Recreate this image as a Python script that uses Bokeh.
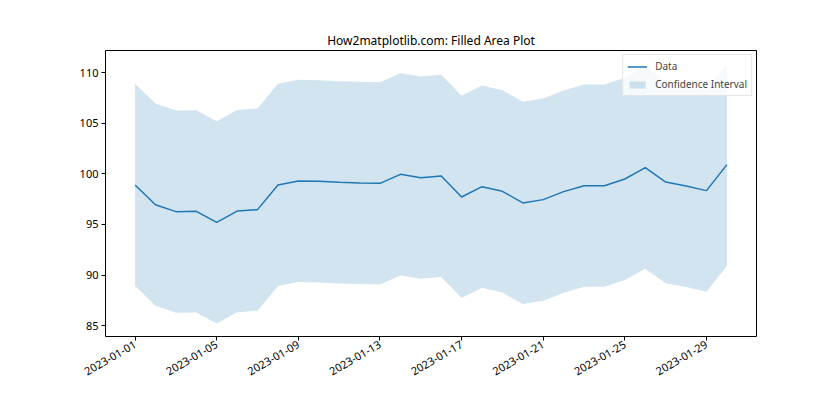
import math
from datetime import datetime, timedelta
from bokeh.plotting import figure
from bokeh.models import (ColumnDataSource, Range1d, FixedTicker, DatetimeTickFormatter,
                          Legend, LegendItem)
from bokeh.embed import file_html
from bokeh.resources import INLINE

# ---- data ----
dates = [datetime(2023, 1, 1) + timedelta(days=i) for i in range(30)]
values = [98.91, 96.96, 96.27, 96.30, 95.21, 96.33, 96.47, 98.91, 99.31, 99.27,
          99.17, 99.11, 99.07, 99.96, 99.63, 99.80, 97.72, 98.74, 98.28, 97.13,
          97.46, 98.25, 98.84, 98.84, 99.50, 100.62, 99.20, 98.81, 98.35, 100.92]
half_width = 10
lower = [v - half_width for v in values]
upper = [v + half_width for v in values]
tick_dates = ["2023-01-01", "2023-01-05", "2023-01-09", "2023-01-13",
              "2023-01-17", "2023-01-21", "2023-01-25", "2023-01-29"]
y_ticks = [85, 90, 95, 100, 105, 110]

FONT = "Noto Sans"
BLUE = "#1f77b4"

src = ColumnDataSource(dict(x=dates, y=values, lo=lower, hi=upper))

span = (dates[-1] - dates[0]).total_seconds() * 1000
x0 = datetime.timestamp(dates[0]) * 1000 - 0.05 * span
x1 = datetime.timestamp(dates[-1]) * 1000 + 0.05 * span
ymin, ymax = min(lower), max(upper)
yr = ymax - ymin

p = figure(width=840, height=420, x_axis_type="datetime",
           output_backend="svg", toolbar_location=None,
           x_range=Range1d(x0, x1), y_range=Range1d(ymin - 0.05 * yr, ymax + 0.05 * yr),
           min_border_left=105, min_border_right=84, min_border_top=50, min_border_bottom=84,
           title="How2matplotlib.com: Filled Area Plot")
p.background_fill_color = "white"
p.border_fill_color = "white"
p.outline_line_color = "black"
p.outline_line_alpha = 1
p.outline_line_width = 1
p.xgrid.visible = False
p.ygrid.visible = False

p.title.align = "center"
p.title.text_font = FONT
p.title.text_font_size = "12px"
p.title.text_font_style = "normal"
p.title.text_color = "black"
p.title.standoff = 4

band = p.varea(x="x", y1="lo", y2="hi", source=src, fill_color=BLUE, fill_alpha=0.2)
line = p.line(x="x", y="y", source=src, line_color=BLUE, line_width=1.5)

tick_ms = [datetime.timestamp(datetime.strptime(t, "%Y-%m-%d")) * 1000 for t in tick_dates]
p.xaxis.ticker = FixedTicker(ticks=tick_ms)
p.xaxis.formatter = DatetimeTickFormatter(days="%Y-%m-%d", months="%Y-%m-%d", hours="%Y-%m-%d")
p.xaxis.major_label_orientation = math.pi / 6
p.yaxis.ticker = FixedTicker(ticks=y_ticks)

for ax in (p.xaxis, p.yaxis):
    ax.axis_line_color = None
    ax.major_tick_line_color = "black"
    ax.major_tick_out = 4
    ax.major_tick_in = 0
    ax.minor_tick_line_color = None
    ax.major_label_text_font = FONT
    ax.major_label_text_font_size = "11px"
    ax.major_label_text_color = "black"
    ax.major_label_standoff = 3

legend = Legend(items=[LegendItem(label="Data", renderers=[line]),
                       LegendItem(label="Confidence Interval", renderers=[band])],
                location="top_right")
legend.label_text_font = FONT
legend.label_text_font_size = "10px"
legend.border_line_color = "#cccccc"
legend.background_fill_alpha = 0.8
legend.glyph_width = 20
legend.glyph_height = 9
legend.label_height = 14
legend.label_standoff = 8
legend.spacing = 4
legend.padding = 4
legend.margin = 4
p.add_layout(legend)

open("out.html", "w").write(file_html(p, INLINE))
